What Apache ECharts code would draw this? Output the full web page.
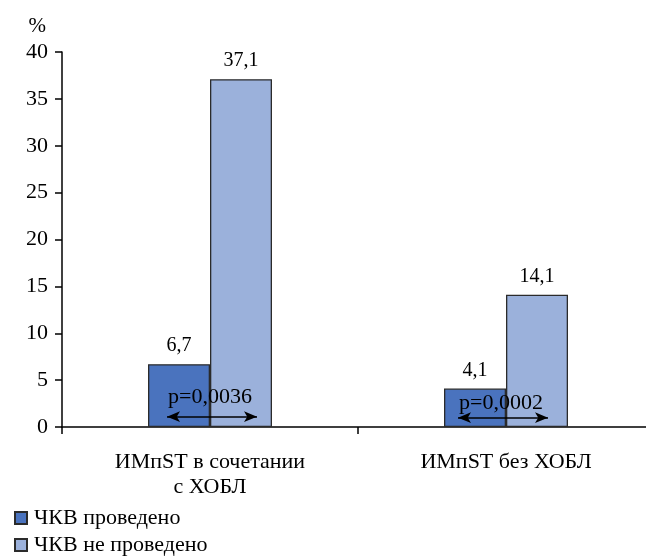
<!DOCTYPE html>
<html>
<head>
<meta charset="utf-8">
<script src="https://cdn.jsdelivr.net/npm/echarts@6/dist/echarts.min.js"></script>
<style>html,body{margin:0;padding:0;background:#fff}#c{width:646px;height:558px}</style>
</head>
<body>
<div id="c"></div>
<script>
var categories = ['ИМпST в сочетании\nс ХОБЛ', 'ИМпST без ХОБЛ'];
var pciDone = [6.7, 4.1];
var pciNotDone = [37.1, 14.1];
var seriesNames = ['ЧКВ проведено', 'ЧКВ не проведено'];
var pValues = ['p=0,0036', 'p=0,0002'];
var pTextLevel = [3.2, 2.55];
var arrowLevel = [1.1, 1.0];
var yMin = 0, yMax = 40, yStep = 5;

var FONT = '"Liberation Serif", "DejaVu Serif", serif';
var chart = echarts.init(document.getElementById('c'), null, {renderer: 'canvas'});
function fmt(p) { return String(p.value).replace('.', ','); }
var option = {
  animation: false,
  backgroundColor: '#fff',
  textStyle: {fontFamily: FONT, color: '#000'},
  grid: {left: 62, top: 52, width: 592, bottom: 131, containLabel: false, outerBoundsMode: 'none'},
  legend: {
    orient: 'vertical', left: 14, top: 507, padding: 0,
    itemWidth: 12, itemHeight: 12, itemGap: 5, icon: 'rect',
    textStyle: {fontFamily: FONT, fontSize: 22, color: '#000', lineHeight: 22, padding: [0, 0, 0, 2]},
    data: seriesNames
  },
  xAxis: {
    type: 'category', data: categories,
    axisLine: {lineStyle: {color: '#000', width: 1.5}},
    axisTick: {show: true, length: 7, lineStyle: {color: '#000', width: 1.5}},
    axisLabel: {fontFamily: FONT, fontSize: 22, color: '#000', margin: 23, lineHeight: 25}
  },
  yAxis: {
    type: 'value', min: yMin, max: yMax, interval: yStep,
    name: '%', nameLocation: 'end', nameGap: 15,
    nameTextStyle: {fontFamily: FONT, fontSize: 21, color: '#000', align: 'right', padding: [0, 16, 0, 0]},
    axisLine: {show: true, lineStyle: {color: '#000', width: 1.5}},
    axisTick: {show: true, length: 7, lineStyle: {color: '#000', width: 1.5}},
    axisLabel: {fontFamily: FONT, fontSize: 22, color: '#000', margin: 14},
    splitLine: {show: false}
  },
  series: [
    {
      name: seriesNames[0], type: 'bar', data: pciDone, barWidth: 62, barGap: '0%',
      itemStyle: {color: '#4A73BE', borderColor: '#2b2b2b', borderWidth: 1.3},
      label: {show: true, position: 'top', distance: 8, formatter: fmt, fontFamily: FONT, fontSize: 20, color: '#000'}
    },
    {
      name: seriesNames[1], type: 'bar', data: pciNotDone, barWidth: 62,
      itemStyle: {color: '#9BB1DB', borderColor: '#2b2b2b', borderWidth: 1.3},
      label: {show: true, position: 'top', distance: 8, formatter: fmt, fontFamily: FONT, fontSize: 20, color: '#000'}
    }
  ]
};
chart.setOption(option);

// annotations placed via the chart's own scales
var graphics = [];
var arrows = [];
for (var i = 0; i < categories.length; i++) {
  var cx = chart.convertToPixel({xAxisIndex: 0}, i);
  var ty = chart.convertToPixel({yAxisIndex: 0}, pTextLevel[i]);
  var ay = chart.convertToPixel({yAxisIndex: 0}, arrowLevel[i]);
  var dx = (i === 0) ? 0 : -5;
  graphics.push({
    type: 'text', x: cx + dx, y: ty, z: 100,
    style: {text: pValues[i], font: '22px ' + FONT, fill: '#000', align: 'center', verticalAlign: 'middle'}
  });
  arrows.push([{x: cx - 43 + dx, y: ay}, {x: cx + 47 + dx, y: ay}]);
}
chart.setOption({
  graphic: graphics,
  series: [{}, {
    markLine: {
      silent: true, symbol: ['arrow', 'arrow'], symbolSize: [8, 13],
      lineStyle: {color: '#000', width: 1.5, type: 'solid'},
      label: {show: false},
      data: arrows
    }
  }]
});
</script>
</body>
</html>
